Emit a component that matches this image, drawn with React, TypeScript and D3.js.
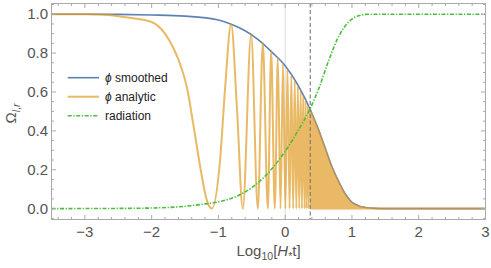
import React from 'react';
import * as d3 from 'd3';

// values, x = log10(H* t)
const smoothed: [number, number][] = [
  [-3.5, 1.0], [-3, 1.0], [-2.5, 0.999], [-2, 0.996], [-1.5, 0.99], [-1.0, 0.97],
  [-0.8, 0.947], [-0.6, 0.915], [-0.4, 0.868], [-0.2, 0.805], [0, 0.735],
  [0.2, 0.63], [0.375, 0.51], [0.5, 0.405], [0.6, 0.31], [0.7, 0.215],
  [0.8, 0.14], [0.9, 0.075], [1.0, 0.032], [1.1, 0.014], [1.2, 0.006],
  [1.35, 0.001], [1.5, 0], [3, 0],
];

const analytic: [number, number][] = [
  [-3.5, 1], [-3, 1], [-2.75, 0.998], [-2.5, 0.99], [-2.25, 0.978], [-2.0, 0.96],
  [-1.8, 0.9], [-1.68, 0.83], [-1.55, 0.72], [-1.47, 0.62], [-1.37, 0.42],
  [-1.275, 0.22], [-1.18, 0.05], [-1.1, 0], [-0.975, 0.25], [-0.9, 0.62],
  [-0.81, 0.948], [-0.72, 0.5], [-0.635, 0], [-0.51, 0.897], [-0.41, 0],
  [-0.335, 0.853], [-0.26, 0], [-0.21, 0.81], [-0.156, 0], [-0.11, 0.775],
  [-0.07, 0], [-0.033, 0.745], [0.003, 0], [0.034, 0.715], [0.066, 0],
  [0.092, 0.685], [0.119, 0], [0.143, 0.655], [0.167, 0], [0.19, 0.63],
  [0.21, 0], [0.232, 0.605], [0.25, 0], [0.27, 0.58], [0.29, 0],
  [0.305, 0.555], [0.32, 0], [0.338, 0.53], [0.35, 0], [0.368, 0.515],
  [0.385, 0], [3, 0],
];

const radiation: [number, number][] = [
  [-3.5, 0], [-2.5, 0.001], [-2, 0.003], [-1.5, 0.012], [-1.25, 0.022],
  [-1, 0.035], [-0.75, 0.06], [-0.5, 0.108], [-0.25, 0.185], [0, 0.295],
  [0.2, 0.405], [0.375, 0.515], [0.5, 0.615], [0.65, 0.76], [0.8, 0.885],
  [0.95, 0.96], [1.1, 0.992], [1.25, 1.0], [3, 1.0],
];

// oscillations too dense to resolve: filled up to the envelope
const denseRange = [0.375, 1.5];
const markerX = 0.375;

const xTicks = [-3, -2, -1, 0, 1, 2, 3];
const yTicks = [0, 0.2, 0.4, 0.6, 0.8, 1.0];

const legendItems = [
  { key: 'smoothed', phi: true, label: 'smoothed' },
  { key: 'analytic', phi: true, label: 'analytic' },
  { key: 'radiation', phi: false, label: 'radiation' },
];

const W = 491;
const H = 268;
const plot = { left: 51.5, right: 485.5, top: 3.5, bottom: 219.5 };

const BLUE = '#5e81b5';
const ORANGE = '#e19c24';
const GREEN = '#49bf3a';
const FRAME = '#aaaaaa';
const LABEL = '#555555';
const FONT = '"Liberation Sans", Arial, sans-serif';

export default function App() {
  const x = d3.scaleLinear().domain([-3.5, 3]).range([plot.left, plot.right]);
  const y = d3.scaleLinear().domain([-0.056, 1.055]).range([plot.bottom, plot.top]);

  const line = d3.line<[number, number]>()
    .x(d => x(d[0]))
    .y(d => y(d[1]))
    .curve(d3.curveMonotoneX);

  const denseArea = d3.area<[number, number]>()
    .x(d => x(d[0]))
    .y0(y(0))
    .y1(d => y(d[1]))
    .curve(d3.curveMonotoneX);

  const denseData = smoothed.filter(d => d[0] >= denseRange[0] && d[0] <= denseRange[1]);

  const xMinor = d3.range(-3.4, 3.001, 0.2).filter(v => Math.abs(v - Math.round(v)) > 0.01);
  const yMinor = d3.range(-0.05, 1.051, 0.05).filter(v => Math.abs(v * 5 - Math.round(v * 5)) > 0.01);

  const fmtX = d3.format('d');
  const fmtY = d3.format('.1f');

  const legendColor: Record<string, string> = { smoothed: BLUE, analytic: ORANGE, radiation: GREEN };

  return (
    <svg width={W} height={H} style={{ position: 'absolute', left: 0, top: 0 }} fontFamily={FONT}>
      <rect x={0} y={0} width={W} height={H} fill="#fff" />

      {/* grid line at 0 */}
      <line x1={x(0)} x2={x(0)} y1={plot.top} y2={plot.bottom} stroke="#dcdcdc" strokeWidth={1} />

      {/* curves */}
      <path d={line(smoothed) || ''} fill="none" stroke={BLUE} strokeWidth={1.6} />
      <g opacity={0.7}>
        <path d={denseArea(denseData) || ''} fill={ORANGE} stroke={ORANGE} strokeWidth={1} />
        <path d={line(analytic) || ''} fill="none" stroke={ORANGE} strokeWidth={2} strokeLinejoin="round" />
      </g>

      <line x1={x(markerX)} x2={x(markerX)} y1={plot.top} y2={plot.bottom}
        stroke="#777" strokeWidth={1.1} strokeDasharray="4,2.5" />

      <path d={line(radiation) || ''} fill="none" stroke={GREEN} strokeWidth={1.6}
        strokeDasharray="4,1.6,1.3,1.6" />

      {/* frame */}
      <rect x={plot.left} y={plot.top} width={plot.right - plot.left} height={plot.bottom - plot.top}
        fill="none" stroke={FRAME} strokeWidth={1} />

      {/* x ticks */}
      {xTicks.map(v => (
        <g key={'xt' + v}>
          <line x1={x(v)} x2={x(v)} y1={plot.bottom} y2={plot.bottom - 4.5} stroke={FRAME} />
          <line x1={x(v)} x2={x(v)} y1={plot.top} y2={plot.top + 4.5} stroke={FRAME} />
          <text x={x(v)} y={237} textAnchor="middle" fontSize={15} fill={LABEL}>{fmtX(v)}</text>
        </g>
      ))}
      {xMinor.map(v => (
        <g key={'xm' + v.toFixed(2)}>
          <line x1={x(v)} x2={x(v)} y1={plot.bottom} y2={plot.bottom - 2.5} stroke={FRAME} />
          <line x1={x(v)} x2={x(v)} y1={plot.top} y2={plot.top + 2.5} stroke={FRAME} />
        </g>
      ))}

      {/* y ticks */}
      {yTicks.map(v => (
        <g key={'yt' + v}>
          <line x1={plot.left} x2={plot.left + 4.5} y1={y(v)} y2={y(v)} stroke={FRAME} />
          <line x1={plot.right} x2={plot.right - 4.5} y1={y(v)} y2={y(v)} stroke={FRAME} />
          <text x={48} y={y(v) + 5.2} textAnchor="end" fontSize={15} fill={LABEL}>{fmtY(v)}</text>
        </g>
      ))}
      {yMinor.map(v => (
        <g key={'ym' + v.toFixed(2)}>
          <line x1={plot.left} x2={plot.left + 2.5} y1={y(v)} y2={y(v)} stroke={FRAME} />
          <line x1={plot.right} x2={plot.right - 2.5} y1={y(v)} y2={y(v)} stroke={FRAME} />
        </g>
      ))}

      {/* axis labels */}
      <text x={(plot.left + plot.right) / 2} y={256} textAnchor="middle" fontSize={15} fill={LABEL}>
        <tspan>Log</tspan>
        <tspan fontSize={10.5} dy={3.5}>10</tspan>
        <tspan dy={-3.5}>[</tspan>
        <tspan fontStyle="italic">H</tspan>
        <tspan fontSize={10.5} dy={3.5}>*</tspan>
        <tspan dy={-3.5}>t]</tspan>
      </text>
      <text transform={`translate(16,${(plot.top + plot.bottom) / 2 + 12}) rotate(-90)`} fontSize={15} fill={LABEL}>
        <tspan>Ω</tspan>
        <tspan fontSize={10.5} dy={3.5} fontStyle="italic">l</tspan>
        <tspan fontSize={10.5}>,</tspan>
        <tspan fontSize={10.5} fontStyle="italic">r</tspan>
      </text>

      {/* legend */}
      {legendItems.map((item, i) => {
        const ly = 77.7 + i * 19;
        return (
          <g key={item.key}>
            <line x1={67.7} x2={99} y1={ly} y2={ly} stroke={legendColor[item.key]}
              strokeWidth={item.key === 'analytic' ? 2 : 1.6}
              strokeOpacity={item.key === 'analytic' ? 0.7 : 1}
              strokeDasharray={item.key === 'radiation' ? '4,1.6,1.3,1.6' : undefined} />
            <text x={105} y={ly + 4.2} fontSize={12} fill="#222">
              {item.phi && <tspan fontStyle="italic">ϕ </tspan>}
              <tspan>{item.label}</tspan>
            </text>
          </g>
        );
      })}
    </svg>
  );
}
